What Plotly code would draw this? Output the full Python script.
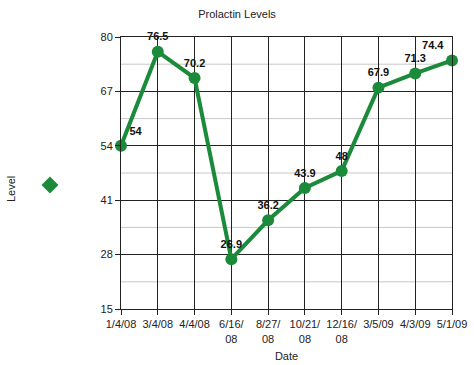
import plotly.graph_objects as go

dates = ["1/4/08", "3/4/08", "4/4/08", "6/16/<br>08", "8/27/<br>08", "10/21/<br>08",
         "12/16/<br>08", "3/5/09", "4/3/09", "5/1/09"]
levels = [54, 76.5, 70.2, 26.9, 36.2, 43.9, 48, 67.9, 71.3, 74.4]
labels = ["54", "76.5", "70.2", "26.9", "36.2", "43.9", "48", "67.9", "71.3", "74.4"]
y_ticks = [15, 28, 41, 54, 67, 80]

green = "#1b8a3a"
xs = list(range(len(dates)))
positions = ["top right"] + ["top center"] * (len(dates) - 2) + ["top left"]

fig = go.Figure()
fig.add_trace(go.Scatter(
    x=xs, y=levels, mode="lines+markers+text",
    line=dict(color=green, width=4),
    marker=dict(color=green, size=12),
    text=labels, textposition=positions,
    textfont=dict(family="Liberation Sans, Arial", size=11, color="#111111", weight="bold"),
    showlegend=False, cliponaxis=False,
))
fig.add_trace(go.Scatter(
    x=[None], y=[None], mode="markers", name="",
    marker=dict(color=green, size=13, symbol="diamond"),
    showlegend=True,
))

minor_vals = [21.5, 34.5, 47.5, 60.5, 73.5]
for v in minor_vals:
    fig.add_hline(y=v, line=dict(color="#c8c8c8", width=1), layer="below")

fig.update_layout(
    width=474, height=365,
    margin=dict(l=121, r=22, t=37, b=56, autoexpand=False),
    paper_bgcolor="white", plot_bgcolor="white",
    font=dict(family="Liberation Sans, Arial", size=11, color="#222222"),
    title=dict(text="Prolactin Levels", x=0.5, xanchor="center", y=0.96, yanchor="middle",
               font=dict(size=11, color="#222222")),
    xaxis=dict(
        range=[0, len(dates) - 1], tickmode="array", tickvals=xs, ticktext=dates,
        showgrid=True, gridcolor="#222222", gridwidth=1,
        showline=True, linecolor="#222222", linewidth=1, mirror=True,
        ticks="outside", ticklen=5, tickcolor="#222222",
        title=dict(text="Date", standoff=8, font=dict(size=11)),
        zeroline=False,
    ),
    yaxis=dict(
        range=[15, 80], tickmode="array", tickvals=y_ticks,
        showgrid=True, gridcolor="#222222", gridwidth=1,
        showline=True, linecolor="#222222", linewidth=1, mirror=True,
        ticks="outside", ticklen=5, tickcolor="#222222",
        zeroline=False,
    ),
    legend=dict(x=-0.275, y=0.456, xanchor="left", yanchor="middle",
                bgcolor="rgba(0,0,0,0)", font=dict(size=1)),
    annotations=[dict(text="Level", xref="paper", yref="paper", x=-0.33, y=0.44,
                      textangle=-90, showarrow=False, font=dict(size=11, color="#222222"),
                      xanchor="center", yanchor="middle")],
)

fig.write_html("out.html", config={"displayModeBar": False},
               post_script="document.body.style.margin='0';document.body.style.overflow='hidden';")
